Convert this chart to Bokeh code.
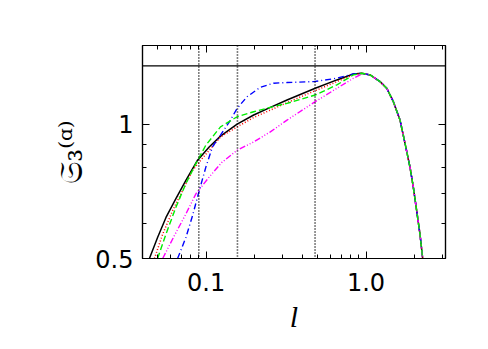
from bokeh.plotting import figure
from bokeh.models import Range1d, FixedTicker, LogAxis, Span, CustomJSTickFormatter
from bokeh.embed import file_html
from bokeh.resources import INLINE

# shared right-hand tail (all curves coincide beyond the peak)
tail_l = [1.061, 1.224, 1.348, 1.482, 1.632, 1.754, 1.884, 1.976, 2.074, 2.175, 2.262]
tail_v = [1.289, 1.245, 1.203, 1.123, 1.021, 0.905, 0.801, 0.7225, 0.640, 0.567, 0.5]

black_l = [0.0442, 0.0497, 0.0561, 0.0647, 0.0747, 0.0884, 0.1045, 0.1230, 0.1563, 0.1984, 0.2522, 0.3206, 0.4814, 0.6574, 0.8345, 0.94]
black_v = [0.5, 0.557, 0.618, 0.681, 0.748, 0.830, 0.889, 0.940, 1.000, 1.048, 1.0905, 1.1325, 1.2034, 1.256, 1.2956, 1.300]

red_l = [0.0475, 0.0535, 0.0617, 0.0713, 0.0823, 0.0906, 0.1230, 0.1563, 0.1984, 0.2522, 0.3206, 0.4814, 0.6574, 0.8345, 0.94]
red_v = [0.5, 0.567, 0.640, 0.710, 0.788, 0.8225, 0.936, 0.986, 1.035, 1.075, 1.117, 1.1885, 1.245, 1.290, 1.300]

green_l = [0.0497, 0.0561, 0.0647, 0.0747, 0.0863, 0.0996, 0.1230, 0.1563, 0.1984, 0.2522, 0.3206, 0.4814, 0.6574, 0.8345, 0.94]
green_v = [0.5, 0.567, 0.651, 0.7355, 0.8156, 0.897, 0.986, 1.0386, 1.066, 1.0905, 1.113, 1.162, 1.224, 1.289, 1.300]

blue_l = [0.0663, 0.0747, 0.0823, 0.0906, 0.0996, 0.1096, 0.1230, 0.1420, 0.1563, 0.1805, 0.2185, 0.2645, 0.3206, 0.4698, 0.6574, 0.8345, 0.94]
blue_v = [0.5, 0.557, 0.624, 0.710, 0.801, 0.889, 0.9445, 1.021, 1.085, 1.152, 1.2096, 1.235, 1.239, 1.245, 1.267, 1.296, 1.300]

magenta_l = [0.0535, 0.0632, 0.0747, 0.0863, 0.1045, 0.125, 0.1563, 0.1984, 0.2522, 0.3206, 0.4814, 0.6574, 0.8345, 0.95]
magenta_v = [0.5, 0.562, 0.629, 0.698, 0.761, 0.820, 0.874, 0.912, 0.961, 1.021, 1.1226, 1.203, 1.267, 1.298]

vlines = [0.09, 0.157, 0.48]
hline = 1.35

x_major = [0.1, 1.0]
x_minor = [0.04, 0.05, 0.06, 0.07, 0.08, 0.09, 0.2, 0.3, 0.4, 0.5, 0.6, 0.7, 0.8, 0.9, 2.0, 3.0]
y_major = [0.5, 1.0]
y_minor = [0.6, 0.7, 0.8, 0.9]

p = figure(width=486, height=347, x_axis_type="log", y_axis_type="log",
           x_range=Range1d(0.04, 3.1416), y_range=Range1d(0.5, 1.5),
           output_backend="svg", toolbar_location=None,
           min_border_left=142, min_border_right=41, min_border_top=45, min_border_bottom=89)
p.background_fill_color = "white"
p.border_fill_color = "white"
p.grid.visible = False
p.outline_line_color = "black"
p.outline_line_width = 1.2

xt = FixedTicker(ticks=x_major, minor_ticks=x_minor)
yt = FixedTicker(ticks=y_major, minor_ticks=y_minor)

def style(ax, labels=True):
    ax.axis_line_color = "black"
    ax.axis_line_width = 1.2
    ax.major_tick_in = 7
    ax.major_tick_out = 0
    ax.minor_tick_in = 4
    ax.minor_tick_out = 0
    ax.major_tick_line_color = "black"
    ax.minor_tick_line_color = "black"
    if not labels:
        ax.major_label_text_font_size = "0px"
        ax.formatter = CustomJSTickFormatter(code="return ''")

xa = p.xaxis[0]
xa.ticker = xt
style(xa)
xa.formatter = CustomJSTickFormatter(code="return tick.toFixed(1)")
xa.major_label_text_font = "DejaVu Sans"
xa.major_label_text_font_size = "24px"
xa.major_label_text_color = "black"
xa.major_label_standoff = 14
xa.axis_label = "l"
xa.axis_label_text_font = "Liberation Serif"
xa.axis_label_text_font_style = "italic"
xa.axis_label_text_font_size = "30px"
xa.axis_label_text_color = "black"
xa.axis_label_standoff = 6

ya = p.yaxis[0]
ya.ticker = yt
style(ya)
ya.formatter = CustomJSTickFormatter(code="return tick == 1 ? '1' : tick.toFixed(1)")
ya.major_label_text_font = "DejaVu Sans"
ya.major_label_text_font_size = "24px"
ya.major_label_text_color = "black"
ya.major_label_standoff = 9
ya.axis_label = "𝔖₃⁽ᵅ⁾"
ya.axis_label_text_font = "DejaVu Serif"
ya.axis_label_text_font_style = "normal"
ya.axis_label_text_font_size = "32px"
ya.axis_label_text_color = "black"
ya.axis_label_standoff = 2

top = LogAxis(ticker=xt)
style(top, labels=False)
p.add_layout(top, "above")
right = LogAxis(ticker=yt)
style(right, labels=False)
p.add_layout(right, "right")

for xv in vlines:
    p.add_layout(Span(location=xv, dimension="height", line_color="black",
                      line_width=1.6, line_dash="1 2"))
p.add_layout(Span(location=hline, dimension="width", line_color="black", line_width=1.2))

p.line(black_l + tail_l, black_v + tail_v, line_color="black", line_width=1.5)
p.line(red_l + tail_l, red_v + tail_v, line_color="#ff0000", line_width=1.5, line_dash="1 2")
p.line(blue_l + tail_l, blue_v + tail_v, line_color="#0000ff", line_width=1.4, line_dash="6 3 1 3")
p.line(magenta_l + tail_l, magenta_v + tail_v, line_color="#ff00ff", line_width=1.4, line_dash="6 2 1 2 1 2 1 2")
p.line(green_l + tail_l, green_v + tail_v, line_color="#00ee00", line_width=1.4, line_dash="6 3")

open("out.html", "w").write(file_html(p, INLINE))
